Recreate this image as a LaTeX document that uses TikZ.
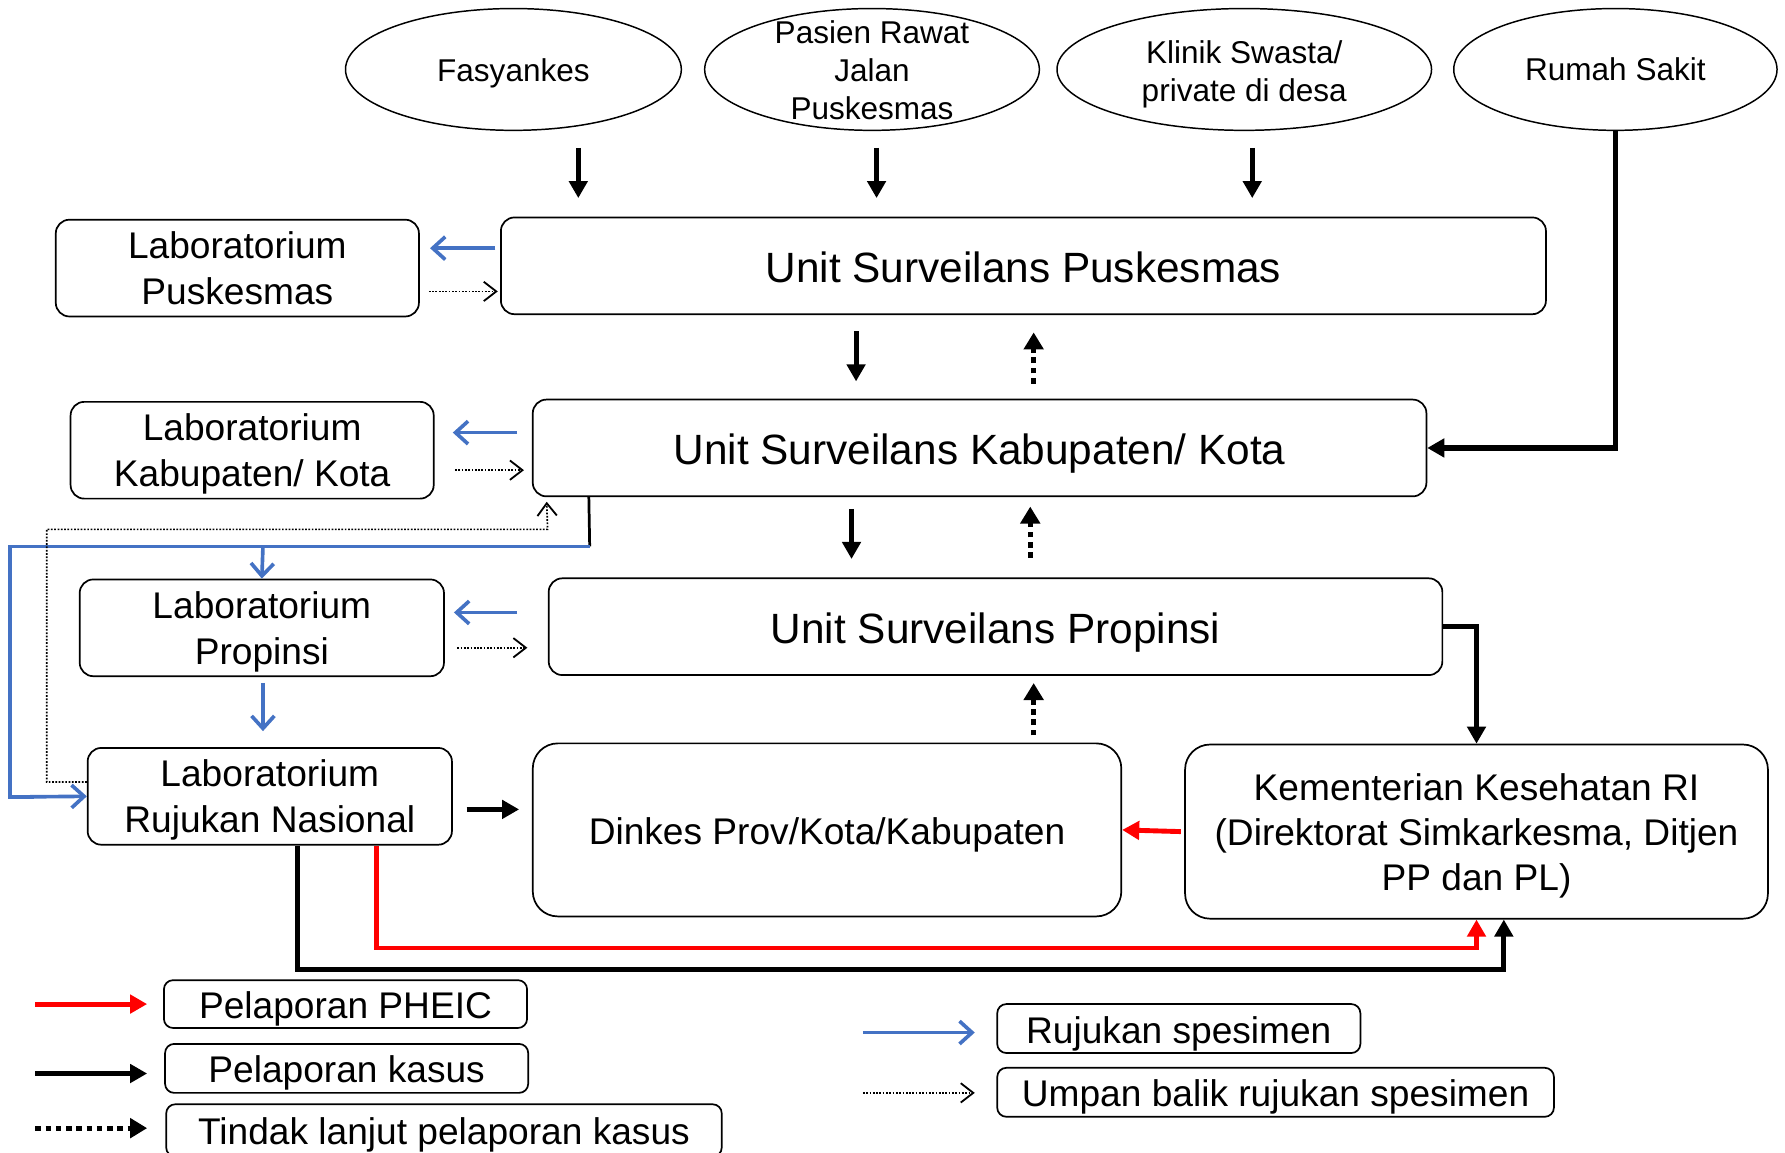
\documentclass[tikz,border=0pt]{standalone}
\usepackage{fontspec}
\setmainfont{Liberation Sans}
\usetikzlibrary{arrows.meta,shapes.geometric,calc}
\definecolor{myblue}{HTML}{4472C4}
\definecolor{myred}{HTML}{FF0000}
\newcommand{\fsz}[2]{\fontsize{#1}{#2}\selectfont}
\begin{document}
\begin{tikzpicture}[x=1pt,y=-1pt,
  vs/.style={text depth=0pt, execute at begin node={\rule{0pt}{#1}}},
  box/.style={draw, rounded corners=12pt, line width=1.5pt, align=center, inner sep=0pt},
  bigbox/.style={box, rounded corners=22pt},
  legbox/.style={draw, rounded corners=8pt, line width=1.5pt, align=center, inner sep=0pt, font=\fsz{32.6}{38}, vs=25.4pt},
  ell/.style={draw, ellipse, line width=1.3pt, inner sep=0pt, minimum height=107pt},
  elltext/.style={align=center, inner sep=0pt, font=\fsz{27.7}{33.5}},
  labtext/.style={font=\fsz{32.6}{40}, vs=34pt},
  unittext/.style={font=\fsz{37.2}{44}, vs=29.6pt},
  blackarr/.style={line width=4.5pt, -{Triangle[length=15pt,width=16pt]}},
  blackline/.style={line width=4.5pt},
  redarr/.style={line width=4.3pt, myred, -{Triangle[length=15pt,width=16pt]}},
  dotarrthick/.style={line width=4.5pt, dash pattern=on 5pt off 4pt, -{Triangle[length=15pt,width=17pt]}},
  bluearr/.style={line width=3.2pt, myblue, -{Straight Barb[length=11pt,width=20pt,line width=3.2pt]}},
  blueline/.style={line width=3.2pt, myblue},
  dotthin/.style={line width=1.5pt, dash pattern=on 1.5pt off 1.4pt, -{Straight Barb[length=11pt,width=17pt,line width=1.6pt]}}
]
\useasboundingbox[fill=white] (0,0) rectangle (1568,1012);

% ellipses
\node[ell, minimum width=295pt] (e1) at (451,61) {};
\node[elltext] (e1t) at (451,64) {Fasyankes};
\node[ell, minimum width=294pt] (e2) at (766,61) {};
\node[elltext] (e2t) at (766,61.5) {Pasien Rawat\\Jalan\\Puskesmas};
\node[ell, minimum width=329pt] (e3) at (1093,61) {};
\node[elltext] (e3t) at (1093,65) {Klinik Swasta/\\private di desa};
\node[ell, minimum width=284pt] (e4) at (1419,61) {};
\node[elltext] (e4t) at (e4) {Rumah Sakit};

% lab boxes
\node[box, labtext, minimum width=319pt, minimum height=85pt] (lp) at (208.5,235.5) {Laboratorium\\Puskesmas};
\node[box, labtext, minimum width=319pt, minimum height=85pt] (lk) at (221.5,395.5) {Laboratorium\\Kabupaten/ Kota};
\node[box, labtext, minimum width=320pt, minimum height=85pt] (lpr) at (230,551.5) {Laboratorium\\Propinsi};
\node[box, labtext, minimum width=320pt, minimum height=85pt] (lr) at (237,699.5) {Laboratorium\\Rujukan Nasional};

% unit boxes
\node[box, unittext, minimum width=918pt, minimum height=85pt] (up) at (899,233.5) {Unit Surveilans Puskesmas};
\node[box, unittext, minimum width=785pt, minimum height=85pt] (uk) at (860.5,393.5) {Unit Surveilans Kabupaten/ Kota};
\node[box, unittext, minimum width=785pt, minimum height=85pt] (upr) at (874.5,550.5) {Unit Surveilans Propinsi};

\node[bigbox, font=\fsz{32.6}{40}, vs=25.4pt, minimum width=517pt, minimum height=152pt] (dk) at (726.5,729) {Dinkes Prov/Kota/Kabupaten};
\node[bigbox, font=\fsz{32.6}{39.5}, vs=25.4pt, minimum width=512pt, minimum height=153pt] (km) at (1297,730.5) {Kementerian Kesehatan RI\\(Direktorat Simkarkesma, Ditjen\\PP dan PL)};

% floating arrows ellipses -> unit puskesmas
\coordinate (a1s) at (508,130); \coordinate (a1e) at (508,174);
\coordinate (a2s) at (770,130); \coordinate (a2e) at (770,174);
\coordinate (a3s) at (1100,130); \coordinate (a3e) at (1100,174);
\draw[blackarr] (a1s) -- (a1e);
\draw[blackarr] (a2s) -- (a2e);
\draw[blackarr] (a3s) -- (a3e);

% rumah sakit -> kab
\draw[blackarr] (e4.south) |- (uk.east);

% puskesmas <-> kab
\coordinate (b1s) at (752,291); \coordinate (b1e) at (752,335);
\coordinate (b2s) at (908,337); \coordinate (b2e) at (908,292);
\draw[blackarr] (b1s) -- (b1e);
\draw[dotarrthick] (b2s) -- (b2e);
% kab <-> propinsi
\coordinate (c1s) at (748,447); \coordinate (c1e) at (748,491);
\coordinate (c2s) at (905,490); \coordinate (c2e) at (905,445);
\draw[blackarr] (c1s) -- (c1e);
\draw[dotarrthick] (c2s) -- (c2e);
% dinkes -> propinsi
\coordinate (d1s) at (908,646); \coordinate (d1e) at (908,600);
\draw[dotarrthick] (d1s) -- (d1e);

% propinsi -> kementerian
\draw[blackarr] (upr.east) -| (km.north);
% lab rujukan -> dinkes
\coordinate (f1s) at (410,711); \coordinate (f1e) at (456,711);
\draw[blackarr] (f1s) -- (f1e);
% kementerian -> dinkes
\draw[redarr] ($(km.west)+(-3,0)$) -- (dk.east);

% lab rujukan -> kementerian
\draw[redarr] ($(lr.south)+(94,0)$) -- ++(0,90) -| (km.south);
\draw[blackarr] ($(lr.south)+(24,0)$) -- ++(0,109) -| ($(km.south)+(24,0)$);

% lab arrows
\draw[bluearr] ($(up.west)+(-4,-15.5)$) -- ($(lp.east)+(9,-17.5)$);
\draw[dotthin] ($(lp.east)+(8,20.5)$) -- ($(up.west)+(-2,22.5)$);
\draw[bluearr] ($(uk.west)+(-13,-13.5)$) -- ($(lk.east)+(16,-15.5)$);
\draw[dotthin] ($(lk.east)+(18,17.5)$) -- ($(uk.west)+(-7,19.5)$);
\draw[bluearr] ($(upr.west)+(-27,-12.5)$) -- ($(lpr.east)+(8,-13.5)$);
\draw[dotthin] ($(lpr.east)+(11,17.5)$) -- ($(upr.west)+(-18,18.5)$);
\draw[bluearr] ($(lpr.south)+(1,5)$) -- ($(lr.north)+(-6,-14)$);

% kab -> labs (specimen)
\coordinate (g0) at (518,480);
\draw[blackline, line width=2.4pt] ($(uk.south west)+(50,0)$) -- (g0);
\draw[blueline] (g0) -- (9,480) -- (9,700) -- (30,700);
\draw[bluearr] (20,700) -- (lr.west);
\draw[bluearr] (231,480) -- (lpr.north);

% feedback from lab rujukan
\draw[dotthin] ($(lr.west)+(0,-12.5)$) -- (41,687) -- (41,465) -- (481,465) -- ($(uk.south west)+(13,4)$);

% legend
\node[legbox, minimum width=319pt, minimum height=42pt] (l1) at (303.5,882) {Pelaporan PHEIC};
\node[legbox, minimum width=319pt, minimum height=43pt] (l2) at (304.5,938.5) {Pelaporan kasus};
\node[legbox, minimum width=488pt, minimum height=46pt] (l3) at (390,993) {Tindak lanjut pelaporan kasus};
\node[legbox, minimum width=319pt, minimum height=43pt] (l4) at (1035.5,903.5) {Rujukan spesimen};
\node[legbox, minimum width=489pt, minimum height=43pt] (l5) at (1120.5,959.5) {Umpan balik rujukan spesimen};

\coordinate (m1) at (31,882);
\coordinate (m2) at (31,943);
\coordinate (m3) at (31,991);
\coordinate (m4) at (758,907);
\coordinate (m5) at (758,960);
\draw[redarr] (m1) -- ($(l1.west)+(-14,0)$);
\draw[blackarr] (m2) -- ($(l2.west)+(-15,4.5)$);
\draw[dotarrthick] (m3) -- ($(l3.west)+(-16,-2)$);
\draw[bluearr] (m4) -- ($(l4.west)+(-19,3.5)$);
\draw[dotthin] (m5) -- ($(l5.west)+(-19,0.5)$);
\end{tikzpicture}
\end{document}
